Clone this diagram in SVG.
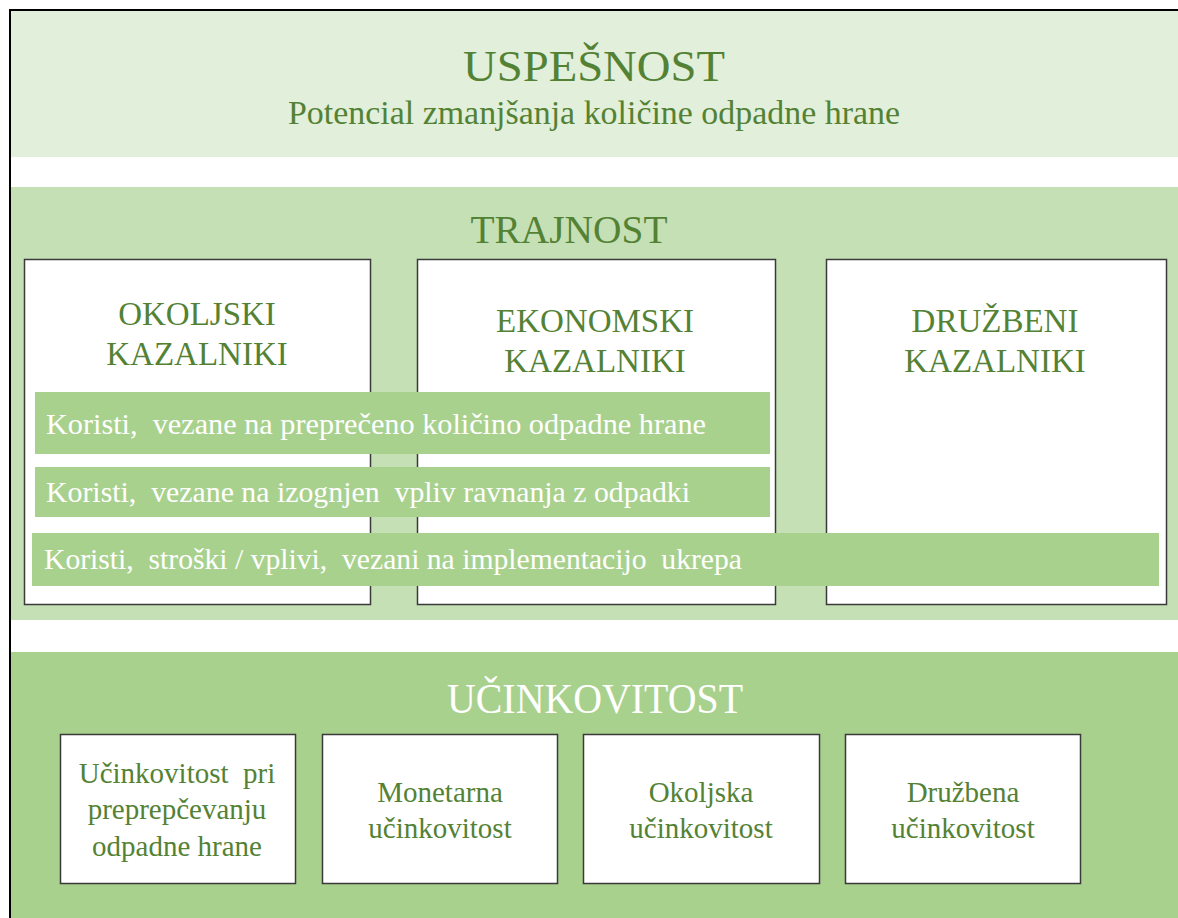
<svg xmlns="http://www.w3.org/2000/svg" width="1178" height="918" viewBox="0 0 1178 918">
<style>
  text { font-family: "Liberation Serif", "Times New Roman", serif; }
  .g { fill: #548235; }
  .w { fill: #ffffff; }
  .box { fill: #ffffff; stroke: #3a3a3a; stroke-width: 1.5; }
  .strip { fill: #a9d18e; }
  .mid { text-anchor: middle; }
  .bt { font-size: 29px; }
  .st { font-size: 30px; }
</style>
<rect x="0" y="0" width="1178" height="918" fill="#ffffff"/>
<g id="uspesnost">
  <rect x="11" y="11" width="1167" height="146" fill="#e2efda"/>
  <text class="g mid" x="594" y="81" font-size="45" textLength="262" lengthAdjust="spacingAndGlyphs">USPEŠNOST</text>
  <text class="g mid" x="594" y="124" font-size="33" textLength="612" lengthAdjust="spacingAndGlyphs">Potencial zmanjšanja količine odpadne hrane</text>
</g>
<g id="trajnost">
  <rect x="11" y="187" width="1167" height="433" fill="#c5e0b4"/>
  <text class="g mid" x="569" y="243" font-size="40" textLength="197" lengthAdjust="spacingAndGlyphs">TRAJNOST</text>
</g>
<g id="okoljski">
  <rect class="box" x="24.5" y="259.5" width="346" height="345"/>
  <text class="g mid" x="197" y="325" font-size="33">OKOLJSKI</text>
  <text class="g mid" x="197" y="365" font-size="33">KAZALNIKI</text>
</g>
<g id="ekonomski">
  <rect class="box" x="417.5" y="259.5" width="358" height="345"/>
  <text class="g mid" x="595" y="332" font-size="33">EKONOMSKI</text>
  <text class="g mid" x="595" y="372" font-size="33">KAZALNIKI</text>
</g>
<g id="druzbeni">
  <rect class="box" x="826.5" y="259.5" width="340" height="345"/>
  <text class="g mid" x="995" y="332" font-size="33">DRUŽBENI</text>
  <text class="g mid" x="995" y="372" font-size="33">KAZALNIKI</text>
</g>
<g id="strip1">
  <rect class="strip" x="35" y="392" width="735" height="62"/>
  <text class="w st" x="46" y="434" textLength="660" lengthAdjust="spacingAndGlyphs" xml:space="preserve">Koristi,  vezane na preprečeno količino odpadne hrane</text>
</g>
<g id="strip2">
  <rect class="strip" x="35" y="467" width="735" height="50"/>
  <text class="w st" x="46" y="502" textLength="644" lengthAdjust="spacingAndGlyphs" xml:space="preserve">Koristi,  vezane na izognjen  vpliv ravnanja z odpadki</text>
</g>
<g id="strip3">
  <rect class="strip" x="32" y="533" width="1127" height="53"/>
  <text class="w st" x="44" y="569" textLength="698" lengthAdjust="spacingAndGlyphs" xml:space="preserve">Koristi,  stroški / vplivi,  vezani na implementacijo  ukrepa</text>
</g>
<g id="ucinkovitost">
  <rect x="11" y="652" width="1167" height="266" fill="#a9d18e"/>
  <text class="w mid" x="595" y="713" font-size="42" textLength="296" lengthAdjust="spacingAndGlyphs">UČINKOVITOST</text>
</g>
<g id="u1">
  <rect class="box" x="60.5" y="734.5" width="235" height="149"/>
  <text class="g mid bt" x="177" y="783" xml:space="preserve">Učinkovitost  pri</text>
  <text class="g mid bt" x="177" y="819" >preprepčevanju</text>
  <text class="g mid bt" x="177" y="856">odpadne hrane</text>
</g>
<g id="u2">
  <rect class="box" x="322.5" y="734.5" width="235" height="149"/>
  <text class="g mid bt" x="440" y="802">Monetarna</text>
  <text class="g mid bt" x="440" y="838">učinkovitost</text>
</g>
<g id="u3">
  <rect class="box" x="583.5" y="734.5" width="236" height="149"/>
  <text class="g mid bt" x="701" y="802">Okoljska</text>
  <text class="g mid bt" x="701" y="838">učinkovitost</text>
</g>
<g id="u4">
  <rect class="box" x="845.5" y="734.5" width="235" height="149"/>
  <text class="g mid bt" x="963" y="802">Družbena</text>
  <text class="g mid bt" x="963" y="838">učinkovitost</text>
</g>
<g id="connectors"></g>
<g id="frame">
  <polyline points="10,930 10,10 1190,10" fill="none" stroke="#000000" stroke-width="2"/>
</g>
</svg>
